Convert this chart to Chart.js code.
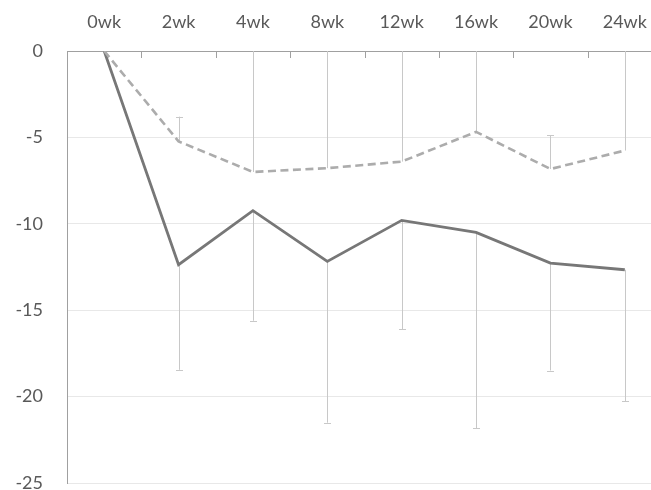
<!DOCTYPE html>
<html>
<head>
<meta charset="utf-8">
<script src="https://cdn.jsdelivr.net/npm/chart.js@4"></script>
<style>
  html, body { margin: 0; padding: 0; background: #fff; overflow: hidden; }
  #wrap { width: 651px; height: 490px; overflow: hidden; }
  canvas { display: block; }
</style>
</head>
<body>
<div id="wrap"><canvas id="c" width="662" height="490"></canvas></div>
<script>
// Visit labels along the top axis
const weeks = ['0wk', '2wk', '4wk', '8wk', '12wk', '16wk', '20wk', '24wk'];

// Mean change from baseline, dashed group
const dashedMean = [0, -5.23, -7.0, -6.78, -6.4, -4.68, -6.83, -5.76];
// Upper error (dashed group draws plus side only)
const dashedErrUp = [0, 1.43, 8.0, 7.5, 7.0, 6.0, 1.95, 6.5];

// Mean change from baseline, solid group
const solidMean = [0, -12.37, -9.24, -12.18, -9.8, -10.5, -12.27, -12.66];
// Lower error (solid group draws minus side only)
const solidErrDown = [0, 6.08, 6.37, 9.33, 6.3, 11.33, 6.22, 7.6];

// Value axis ticks
const yTicks = [0, -5, -10, -15, -20, -25];

const FONT = 'Lato, "Open Sans", "DejaVu Sans", sans-serif';
const TEXT = '#595959';
const AXIS = '#a0a0a0';

// Vertical error bars with small caps, computed through the value scale
const errorBars = {
  id: 'errorBars',
  beforeDatasetsDraw(chart) {
    const { ctx, chartArea, scales } = chart;
    const x = scales.x, y = scales.y;
    ctx.save();
    ctx.beginPath();
    ctx.rect(chartArea.left, chartArea.top, chartArea.right - chartArea.left, chartArea.bottom - chartArea.top);
    ctx.clip();
    ctx.strokeStyle = '#c8c8c8';
    ctx.lineWidth = 1;
    const cap = 3.5;
    const bar = (px, v0, v1) => {
      const y0 = y.getPixelForValue(v0);
      const y1 = y.getPixelForValue(v1);
      const cx = Math.round(px) + 0.5;
      ctx.beginPath();
      ctx.moveTo(cx, y0);
      ctx.lineTo(cx, y1);
      ctx.moveTo(cx - cap, Math.round(y1) + 0.5);
      ctx.lineTo(cx + cap, Math.round(y1) + 0.5);
      ctx.stroke();
    };
    weeks.forEach((w, i) => {
      const px = x.getPixelForValue(i);
      if (dashedErrUp[i] > 0) bar(px, dashedMean[i], dashedMean[i] + dashedErrUp[i]);
      if (solidErrDown[i] > 0) bar(px, solidMean[i], solidMean[i] - solidErrDown[i]);
    });
    ctx.restore();
  }
};

// Short inward tick marks between categories on the top axis
const innerTicks = {
  id: 'innerTicks',
  afterDraw(chart) {
    const { ctx, chartArea, scales } = chart;
    const x = scales.x;
    ctx.save();
    ctx.strokeStyle = AXIS;
    ctx.lineWidth = 1;
    for (let i = 1; i < weeks.length; i++) {
      const px = Math.round((x.getPixelForValue(i - 1) + x.getPixelForValue(i)) / 2) + 0.5;
      ctx.beginPath();
      ctx.moveTo(px, chartArea.top);
      ctx.lineTo(px, chartArea.top + 7);
      ctx.stroke();
    }
    ctx.restore();
  }
};

new Chart(document.getElementById('c'), {
  type: 'line',
  data: {
    labels: weeks,
    datasets: [
      {
        data: dashedMean,
        borderColor: '#acacac',
        borderWidth: 2.6,
        borderDash: [8, 4.5],
        pointRadius: 0,
        tension: 0,
        fill: false
      },
      {
        data: solidMean,
        borderColor: '#777777',
        borderWidth: 2.8,
        pointRadius: 0,
        tension: 0,
        fill: false
      }
    ]
  },
  options: {
    responsive: false,
    animation: false,
    devicePixelRatio: 1,
    layout: { padding: { left: 0, right: 0, top: 0, bottom: 7 } },
    plugins: {
      legend: { display: false },
      tooltip: { enabled: false }
    },
    scales: {
      x: {
        type: 'category',
        position: 'top',
        offset: true,
        grid: { display: false, drawTicks: false },
        border: { display: true, color: AXIS, width: 1 },
        ticks: {
          color: TEXT,
          font: { family: FONT, size: 18 },
          padding: 18,
          maxRotation: 0,
          autoSkip: false
        },
        afterFit(s) { s.height = 51; s.paddingLeft = 0; s.paddingRight = 0; }
      },
      y: {
        min: -25,
        max: 0,
        afterBuildTicks(s) { s.ticks = yTicks.map(v => ({ value: v })); },
        grid: { color: '#e8e8e8', lineWidth: 1, drawTicks: false },
        border: { display: true, color: AXIS, width: 1 },
        ticks: {
          color: TEXT,
          font: { family: FONT, size: 18 },
          padding: 24
        },
        afterFit(s) { s.width = 67; s.paddingTop = 0; s.paddingBottom = 0; }
      }
    }
  },
  plugins: [errorBars, innerTicks]
});
</script>
</body>
</html>
